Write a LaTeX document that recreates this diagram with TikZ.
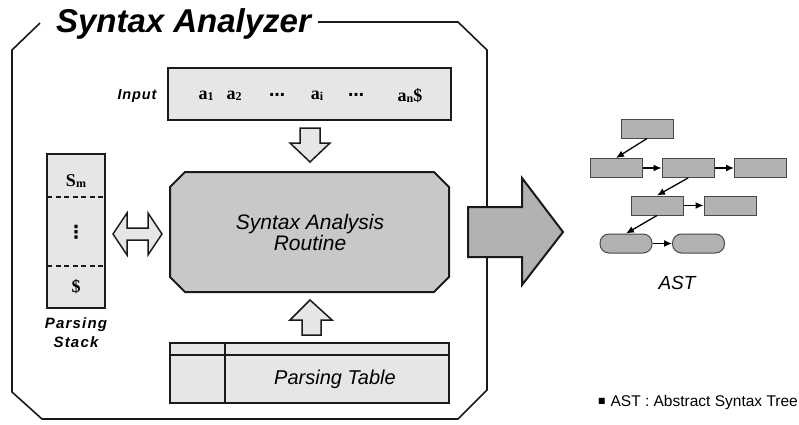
\documentclass[tikz,border=0pt]{standalone}
\usepackage{amssymb}
\usepackage{fontspec}
\setmainfont{Liberation Serif}
\setsansfont{Liberation Sans}
\newfontfamily\dotsfont{DejaVu Sans}
\usetikzlibrary{arrows.meta}

\definecolor{lightfill}{HTML}{E6E6E6}
\definecolor{midfill}{HTML}{C8C8C8}
\definecolor{darkfill}{HTML}{B2B2B2}
\definecolor{edge}{HTML}{1A1A1A}

\newcommand{\sub}[1]{\raisebox{-1pt}{\fontsize{12}{12}\selectfont #1}}

\tikzset{
  frame/.style={draw=edge, line width=1.6pt, line join=miter},
  box/.style={draw=edge, line width=2pt, fill=lightfill},
  blockarrow/.style={draw=edge, line width=1.5pt, fill=lightfill, line join=miter},
  symb/.style={font=\fontsize{18}{18}\selectfont\bfseries, inner sep=0pt},
  dotsym/.style={font=\dotsfont\bfseries\fontsize{16}{16}\selectfont, inner sep=0pt},
  lbl/.style={font=\sffamily\bfseries\itshape\fontsize{14.5}{18.5}\selectfont\addfontfeature{LetterSpace=6}, align=center, inner sep=0pt},
  astbox/.style={draw=edge!80, line width=1pt, fill=darkfill, minimum width=52pt, minimum height=19pt, inner sep=0pt},
  astpill/.style={astbox, rounded corners=9pt},
  astlink/.style={draw=black, line width=1.3pt, -{Latex[length=8pt,width=7pt]}},
}

\begin{document}
\begin{tikzpicture}[x=1pt, y=-1pt]
\useasboundingbox (0,0) rectangle (799,424);

% analyzer frame, open at the top left for its title
\draw[frame] (318,22) -- (458,22) -- (487,50) -- (487,390) -- (458,419)
  -- (42,419) -- (12,392) -- (12,50) -- (40,23);
\node[font=\sffamily\bfseries\itshape\fontsize{33}{33}\selectfont, inner sep=0pt]
  (title) at (183.5,24) {Syntax Analyzer};

% input tape
\draw[box] (168,68) rectangle (451,120);
\node[lbl] (inlabel) at (137,96) {Input};
\node[symb] (a1) at (206,96) {a\sub{1}};
\node[symb] (a2) at (234,96) {a\sub{2}};
\node[dotsym] (d1) at (277,97) {⋯};
\node[symb] (ai) at (317,96) {a\sub{i}};
\node[dotsym] (d2) at (356,97) {⋯};
\node[symb] (an) at (410,96) {a\sub{n}\$};

% input feeds the routine
\draw[blockarrow] (300,128) -- (320,128) -- (320,143) -- (330,143) -- (310,162)
  -- (290,143) -- (300,143) -- cycle;

% syntax analysis routine
\draw[draw=edge, line width=2pt, fill=midfill, line join=miter]
  (185,172) -- (434,172) -- (449,187) -- (449,277) -- (434,292)
  -- (185,292) -- (170,277) -- (170,187) -- cycle;
\node[font=\sffamily\itshape\fontsize{21}{21}\selectfont, align=center]
  (routine) at (310,232) {Syntax Analysis\\Routine};

% parsing stack
\draw[box] (47,154) rectangle (105,308);
\draw[edge, line width=1.2pt, dash pattern=on 5pt off 3.5pt] (47,197) -- (105,197);
\draw[edge, line width=1.2pt, dash pattern=on 5pt off 3.5pt] (47,266) -- (105,266);
\node[symb] (sm) at (76,181) {S\sub{m}};
\node[dotsym, font=\dotsfont\bfseries\fontsize{18}{18}\selectfont] (vd) at (76,232) {⋮};
\node[symb] (bot) at (76,287) {\$};
\node[lbl, font=\sffamily\bfseries\itshape\fontsize{15}{19}\selectfont\addfontfeature{LetterSpace=8}]
  (stacklbl) at (76,333) {Parsing\\Stack};

% stack <-> routine
\draw[blockarrow] (113,234) -- (127,213) -- (127,228) -- (148,228) -- (148,213)
  -- (162,234) -- (148,255) -- (148,240) -- (127,240) -- (127,255) -- cycle;

% parsing table
\draw[box] (170,343) rectangle (449,403);
\draw[edge, line width=2pt] (170,355) -- (449,355);
\draw[edge, line width=2pt] (225,343) -- (225,403);
\node[font=\sffamily\itshape\fontsize{20}{20}\selectfont]
  (table) at (335,379) {Parsing Table};

% table feeds the routine
\draw[blockarrow] (302,335) -- (321,335) -- (321,320) -- (332,320) -- (310,300)
  -- (290,320) -- (302,320) -- cycle;

% output arrow towards the tree
\draw[draw=edge, line width=2pt, fill=darkfill, line join=miter]
  (468,207) -- (522,207) -- (522,178) -- (563,232) -- (522,285) -- (522,257)
  -- (468,257) -- cycle;

% abstract syntax tree
\node[astbox] (t0) at (647,128.5) {};
\node[astbox] (r2a) at (616,168) {};
\node[astbox] (r2b) at (688,168) {};
\node[astbox] (r2c) at (760.5,168) {};
\node[astbox] (r3a) at (657,205.5) {};
\node[astbox] (r3b) at (730,205.5) {};
\node[astpill] (r4a) at (626,243.5) {};
\node[astpill] (r4b) at (698.5,243.5) {};

\draw[astlink] (t0.south) -- (r2a.north);
\draw[astlink] (r2a) -- (r2b);
\draw[astlink] (r2b) -- (r2c);
\draw[astlink] (r2b.south) -- (r3a.north);
\draw[astlink] (r3a) -- (r3b);
\draw[astlink] (r3a.south) -- (r4a.north);
\draw[astlink] (r4a) -- (r4b);

\node[font=\sffamily\itshape\fontsize{19}{19}\selectfont] (ast) at (677,283) {AST};

\node[font=\sffamily\fontsize{15.5}{16}\selectfont, anchor=east, inner sep=0pt]
  (note) at (798,402) {{\fontsize{9}{9}\selectfont\raisebox{2pt}{$\blacksquare$}}\,\,AST : Abstract Syntax Tree};
\end{tikzpicture}
\end{document}
